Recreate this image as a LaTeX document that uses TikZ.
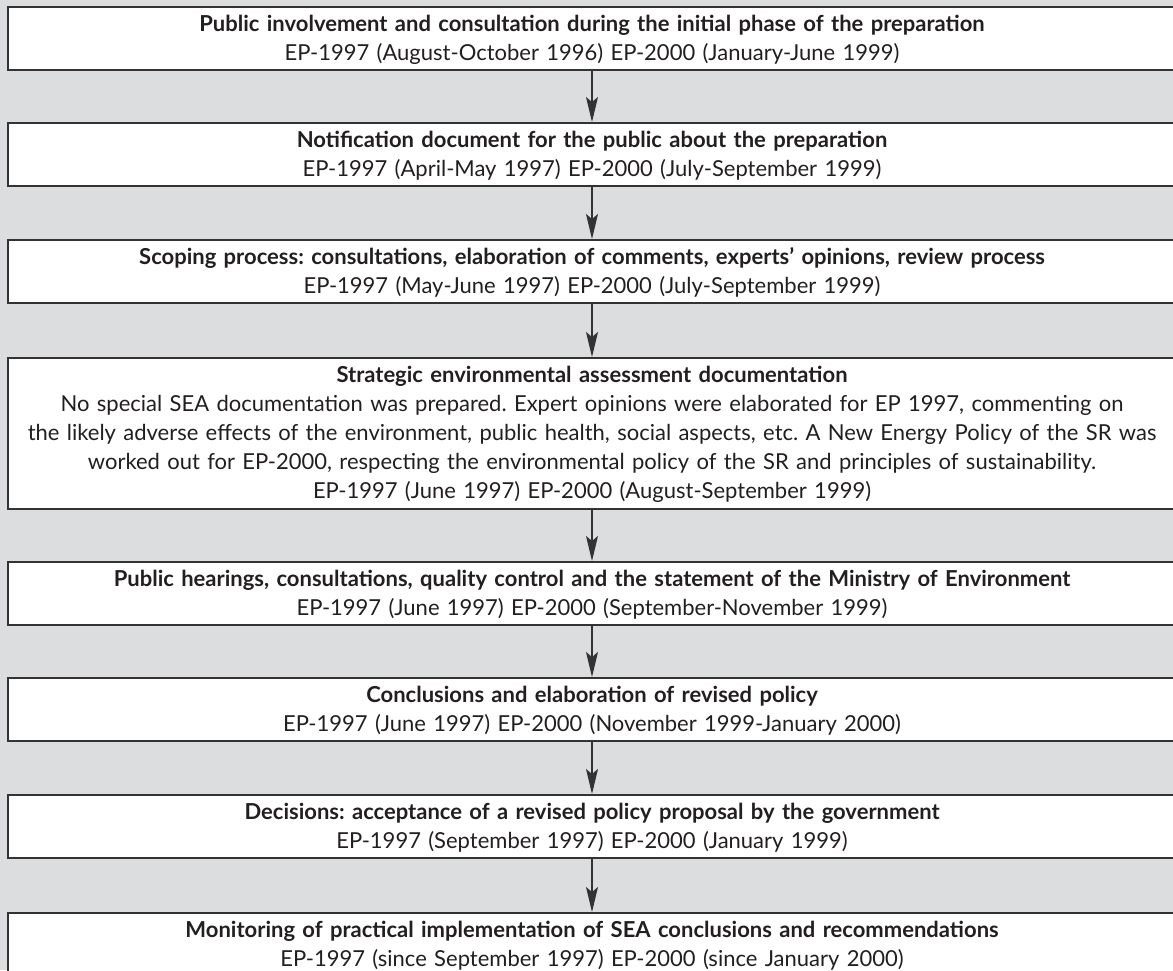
\documentclass[tikz,border=0pt]{standalone}
\usepackage{fontspec}
\setmainfont{Lato}
\usetikzlibrary{arrows.meta}
\frenchspacing

\definecolor{panelgrey}{RGB}{220,221,223}
\definecolor{inkgrey}{RGB}{35,31,32}

\tikzset{
  stagebox/.style={
    draw=black!80, line width=1.6pt, fill=white, text=inkgrey,
    align=center, text width=1150pt, inner xsep=9pt, inner ysep=0pt,
    text height=25pt, text depth=38pt, anchor=north,
    font=\fontsize{22}{29}\selectfont
  },
  tallbox/.style={stagebox, text depth=126pt},
  flow/.style={draw=black!80, line width=1.2pt,
    -{Stealth[length=25pt,width=12pt,inset=5pt]}}
}

\begin{document}
\begin{tikzpicture}[x=1pt,y=-1pt]
  % page and background
  \useasboundingbox (0,0) rectangle (1173,970);
  \fill[panelgrey] (0,0) rectangle (1173,970);

  % process stages
  \node[stagebox] (s1) at (592,6)
    {\textbf{Public involvement and consultation during the initial phase of the preparation}\\
     EP-1997 (August-October 1996) EP-2000 (January-June 1999)};
  \node[stagebox] (s2) at (592,122)
    {\textbf{Notification document for the public about the preparation}\\
     EP-1997 (April-May 1997) EP-2000 (July-September 1999)};
  \node[stagebox] (s3) at (592,239)
    {\textbf{Scoping process: consultations, elaboration of comments, experts' opinions, review process}\\
     EP-1997 (May-June 1997) EP-2000 (July-September 1999)};
  \node[tallbox] (s4) at (592,357)
    {\textbf{Strategic environmental assessment documentation}\\
     No special SEA documentation was prepared. Expert opinions were elaborated for EP 1997, commenting on\\
     the likely adverse effects of the environment, public health, social aspects, etc. A New Energy Policy of the SR was\\
     worked out for EP-2000, respecting the environmental policy of the SR and principles of sustainability.\\
     EP-1997 (June 1997) EP-2000 (August-September 1999)};
  \node[stagebox] (s5) at (592,561)
    {\textbf{Public hearings, consultations, quality control and the statement of the Ministry of Environment}\\
     EP-1997 (June 1997) EP-2000 (September-November 1999)};
  \node[stagebox] (s6) at (592,677)
    {\textbf{Conclusions and elaboration of revised policy}\\
     EP-1997 (June 1997) EP-2000 (November 1999-January 2000)};
  \node[stagebox] (s7) at (592,794)
    {\textbf{Decisions: acceptance of a revised policy proposal by the government}\\
     EP-1997 (September 1997) EP-2000 (January 1999)};
  \node[stagebox] (s8) at (592,912)
    {\textbf{Monitoring of practical implementation of SEA conclusions and recommendations}\\
     EP-1997 (since September 1997) EP-2000 (since January 2000)};

  % sequence arrows
  \foreach \a/\b in {s1/s2,s2/s3,s3/s4,s4/s5,s5/s6,s6/s7,s7/s8}
    \draw[flow] (\a.south) -- (\b.north);
\end{tikzpicture}
\end{document}
